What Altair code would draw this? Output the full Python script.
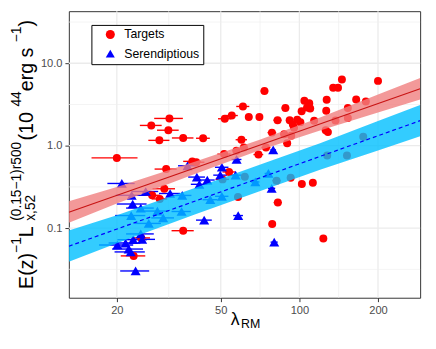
import altair as alt
import pandas as pd

# ---- data ----
red_lam = [20.0, 27.1, 31.8, 31.5, 29.1, 35.9, 42.8, 51.8, 55.1, 60.8, 64.0, 70.3, 60.0, 51.5, 57.4,
           61.3, 38.9, 40.3, 30.9, 53.8, 50.8, 61.8, 30.4, 27.3, 29.2, 58.2, 35.9, 23.2, 24.8, 73.5,
           145.5, 134.7, 140.6, 200.0, 88.4, 82.5, 104.5, 109.1, 107.0, 102.0, 110.0, 127.2, 126.7,
           153.3, 165.0, 179.7, 91.8, 98.1, 94.4, 100.9, 95.4, 113.9, 126.1, 128.6, 137.5, 153.3,
           93.1, 78.5, 87.4, 74.5, 89.8, 69.7, 127.8, 152.1, 175.6, 81.8, 92.6, 102.2, 112.6, 82.7,
           78.7, 123.5]
red_lum = [0.71, 1.76, 2.14, 1.54, 1.16, 1.24, 1.23, 2.12, 2.32, 2.99, 2.23, 2.23, 1.18, 0.79, 0.87,
           0.95, 0.645, 0.63, 0.52, 0.48, 0.39, 0.42, 0.30, 0.25, 0.226, 0.238, 0.093, 0.046, 0.076, 4.60,
           6.33, 5.04, 5.04, 6.11, 2.86, 2.04, 3.50, 3.28, 2.91, 2.61, 2.83, 3.60, 2.66,
           2.86, 3.63, 3.43, 2.04, 2.07, 1.81, 1.93, 1.65, 2.01, 1.54, 1.46, 2.02, 2.17,
           1.32, 1.44, 1.38, 0.95, 1.07, 0.78, 0.76, 0.76, 1.28, 0.376, 0.408, 0.343, 0.356, 0.204,
           0.112, 0.075]
red_err = [4, 2.6, 4, 3, 2.7, 3.4, 2.6, 3, 3, 3.5, 2, 2, 3, 3, 2,
           2, 3, 3, 3, 3, 3, 2, 3, 2, 2, 2, 3.5, 2.5, 2, 2.5,
           2, 3, 3, 3, 3, 3, 3, 3, 3, 3, 3, 3, 3,
           3, 3, 3, 3, 3, 3, 3, 3, 3, 3, 3, 3, 3,
           3, 3, 3, 3, 3, 3, 3, 3, 3, 3, 3, 3, 3, 3,
           2.5, 3]

blue_lam = [20.9, 37.3, 40.5, 41.4, 44.4, 50.5, 49.8, 57.5, 57.0, 79.4, 78.3, 58.3, 80.1, 43.2,
            50.5, 45.6, 35.6, 32.0, 25.8, 22.8, 23.0, 24.7, 22.7, 28.6, 30.1, 26.5, 35.4, 24.7,
            20.1, 21.6, 23.1, 25.0, 22.2, 22.6, 23.6, 67.8, 76.1]
blue_lum = [0.348, 0.57, 0.416, 0.34, 0.383, 0.547, 0.439, 0.68, 0.439, 0.889, 0.304, 0.142, 0.0676, 0.125,
            0.243, 0.221, 0.249, 0.263, 0.278, 0.25, 0.196, 0.175, 0.142, 0.161, 0.133, 0.114, 0.159, 0.085,
            0.0624, 0.0659, 0.0724, 0.073, 0.0557, 0.0514, 0.0302, 0.363, 0.46]
blue_err = [2.5, 3, 3, 3, 3, 3, 3, 2.5, 3, 2, 2.5, 2.5, 2.5, 3,
            3, 3, 3, 3, 3, 3, 3, 3, 3, 3, 3, 3, 3, 3,
            3, 3, 3, 3, 3, 3, 3, 2.5, 2.5]

band_lam = [13.1, 20, 40, 70, 120, 200, 290]
red_lo = [0.116, 0.199, 0.456, 0.871, 1.53, 2.52, 3.63]
red_hi = [0.211, 0.316, 0.642, 1.17, 2.20, 4.17, 6.61]
blue_lo = [0.0390, 0.0656, 0.147, 0.278, 0.512, 0.871, 1.30]
blue_hi = [0.0934, 0.1436, 0.308, 0.581, 1.069, 1.995, 3.11]

line_lam = [13.1, 290]
red_line = [0.156, 4.90]
blue_line = [0.0603, 2.01]

x_major = [20, 50, 100, 200]
x_minor = [31.6, 70.7, 141.4]
y_major = [0.1, 1, 10]
y_minor = [0.0316, 0.316, 3.16, 31.6]
groups = ["Targets", "Serendiptious"]

# ---- tables ----
pts = pd.DataFrame({
    "lam": red_lam + blue_lam,
    "lum": red_lum + blue_lum,
    "err": red_err + blue_err,
    "type": ["Targets"] * len(red_lam) + ["Serendiptious"] * len(blue_lam),
})
pts["lo"] = pts["lam"] - pts["err"]
pts["hi"] = pts["lam"] + pts["err"]

bands = pd.DataFrame({"lam": band_lam, "rlo": red_lo, "rhi": red_hi, "blo": blue_lo, "bhi": blue_hi})
lines = pd.DataFrame({"lam": line_lam, "r": red_line, "b": blue_line})

FONT = "Liberation Sans"
xs = alt.Scale(type="log", domain=[13.1, 290], nice=False)
ys = alt.Scale(type="log", domain=[0.0143, 42.8], nice=False)
axis_common = dict(title=None, grid=False, domain=False, ticks=True, tickColor="#333333",
                   tickSize=4, tickWidth=1, labelColor="#4D4D4D", labelFontSize=11.3,
                   labelFont=FONT, labelPadding=3)
xaxis = alt.Axis(values=x_major, format="d", **axis_common)
yaxis = alt.Axis(values=y_major, format=".1f", **axis_common)

leg = alt.Legend(title=None, orient="none", legendX=23, legendY=14, padding=3.5,
                 strokeColor="#000000", fillColor="#FFFFFF",
                 labelFont=FONT, labelFontSize=12.5, labelColor="#000000", symbolSize=85,
                 symbolOffset=9.5, rowPadding=6.5, labelOffset=8)

gx_minor = alt.Chart(pd.DataFrame({"v": x_minor})).mark_rule(color="#EFEFEF", strokeWidth=0.7).encode(
    x=alt.X("v:Q", scale=xs, axis=xaxis))
gx_major = alt.Chart(pd.DataFrame({"v": x_major})).mark_rule(color="#EBEBEB", strokeWidth=1.3).encode(
    x=alt.X("v:Q", scale=xs, axis=xaxis))
gy_minor = alt.Chart(pd.DataFrame({"v": y_minor})).mark_rule(color="#EFEFEF", strokeWidth=0.7).encode(
    y=alt.Y("v:Q", scale=ys, axis=yaxis))
gy_major = alt.Chart(pd.DataFrame({"v": y_major})).mark_rule(color="#EBEBEB", strokeWidth=1.3).encode(
    y=alt.Y("v:Q", scale=ys, axis=yaxis))

err_red = alt.Chart(pts).transform_filter(alt.datum.type == "Targets").mark_rule(
    strokeWidth=1.4, color="#FF0000").encode(
    x=alt.X("lo:Q", scale=xs, axis=xaxis), x2="hi:Q", y=alt.Y("lum:Q", scale=ys, axis=yaxis))
err_blue = alt.Chart(pts).transform_filter(alt.datum.type == "Serendiptious").mark_rule(
    strokeWidth=1.4, color="#0000FF").encode(
    x=alt.X("lo:Q", scale=xs, axis=xaxis), x2="hi:Q", y=alt.Y("lum:Q", scale=ys, axis=yaxis))

points = alt.Chart(pts).mark_point(filled=True, opacity=1).encode(
    x=alt.X("lam:Q", scale=xs, axis=xaxis),
    y=alt.Y("lum:Q", scale=ys, axis=yaxis),
    color=alt.Color("type:N", scale=alt.Scale(domain=groups, range=["#FF0000", "#0000FF"]), legend=leg),
    shape=alt.Shape("type:N", scale=alt.Scale(domain=groups, range=["circle", "triangle-up"]), legend=leg),
    size=alt.condition(alt.datum.type == "Serendiptious", alt.value(105), alt.value(66)))

red_band = alt.Chart(bands).mark_area(color="#F08080", opacity=0.8, clip=True).encode(
    x=alt.X("lam:Q", scale=xs, axis=xaxis), y=alt.Y("rlo:Q", scale=ys, axis=yaxis), y2="rhi:Q")
blue_band = alt.Chart(bands).mark_area(color="#00BFFF", opacity=0.8, clip=True).encode(
    x=alt.X("lam:Q", scale=xs, axis=xaxis), y=alt.Y("blo:Q", scale=ys, axis=yaxis), y2="bhi:Q")
red_fit = alt.Chart(lines).mark_line(color="#C81414", strokeWidth=1.2, clip=True).encode(
    x=alt.X("lam:Q", scale=xs, axis=xaxis), y=alt.Y("r:Q", scale=ys, axis=yaxis))
blue_fit = alt.Chart(lines).mark_line(color="#0000FF", strokeWidth=1.2, strokeDash=[4, 3], clip=True).encode(
    x=alt.X("lam:Q", scale=xs, axis=xaxis), y=alt.Y("b:Q", scale=ys, axis=yaxis))

one = pd.DataFrame({"a": [0]})


def txt(s, x, y, size, angle=270):
    return alt.Chart(one).mark_text(text=s, font=FONT, fontSize=size, color="#000000", angle=angle,
                                    align="left", baseline="alphabetic").encode(
        x=alt.value(x), y=alt.value(y))


F = 20
f = 14
MB = -37   # main baseline (x, relative to plot)
SB = -49   # superscript baseline
BB = -34   # subscript baseline
ytitle = [
    txt("E(z)", MB, 283, F),
    txt("\u22121", SB, 246.3, f),
    txt(" L", MB, 230.3, F),
    txt("(0.15\u22121)r500", SB, 213.6, f),
    txt("x,52", BB, 213.6, f),
    txt(" (10", MB, 131.7, F),
    txt("44", SB, 97.2, f),
    txt(" erg s", MB, 81.6, F),
    txt("\u22121", SB, 31.6, f),
    txt(")", MB, 15.6, F),
]
xtitle = [
    txt("\u03bb", 165, 320, 18, angle=0),
    txt("RM", 175.5, 323, 12.6, angle=0),
]

chart = alt.layer(
    gx_minor, gx_major, gy_minor, gy_major, err_red, err_blue, points, red_band, blue_band,
    red_fit, blue_fit, *ytitle, *xtitle
).properties(
    width=358, height=292,
    autosize=alt.AutoSizeParams(type="none"),
    padding={"left": 62, "top": 0, "right": 8, "bottom": 49},
).configure_view(stroke="#333333", strokeWidth=1)

chart.save("out.html", embed_options={"renderer": "svg", "actions": False})
